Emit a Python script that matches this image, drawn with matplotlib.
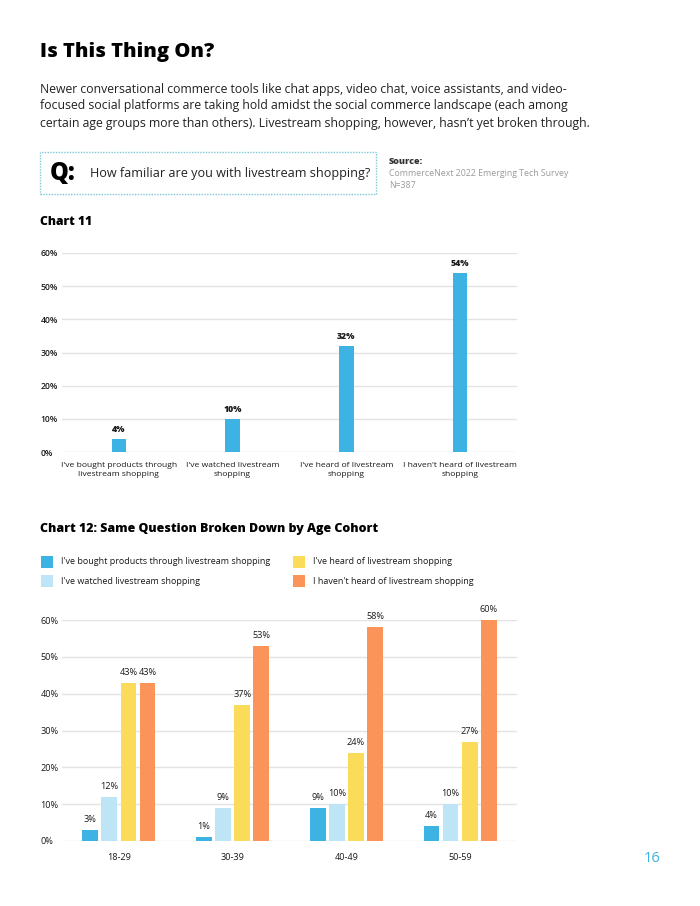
import matplotlib
matplotlib.use("Agg")
import matplotlib.pyplot as plt
import numpy as np
from matplotlib.patches import Rectangle

plt.rcParams['font.family'] = ['Open Sans', 'DejaVu Sans']

W, H = 700, 906

# ---------------- data ----------------
c11_categories = ["I've bought products through\nlivestream shopping",
                  "I've watched livestream\nshopping",
                  "I've heard of livestream\nshopping",
                  "I haven't heard of livestream\nshopping"]
c11_values = [4, 10, 32, 54]

c12_groups = ["18-29", "30-39", "40-49", "50-59"]
c12_series = ["I've bought products through livestream shopping",
              "I've watched livestream shopping",
              "I've heard of livestream shopping",
              "I haven't heard of livestream shopping"]
c12_bought = [3, 1, 9, 4]
c12_watched = [12, 9, 10, 10]
c12_heard = [43, 37, 24, 27]
c12_not_heard = [43, 53, 58, 60]

yticks = [0, 10, 20, 30, 40, 50, 60]
ytick_labels = ["0%", "10%", "20%", "30%", "40%", "50%", "60%"]

BLUE = "#3DB3E3"
LBLUE = "#BDE5F5"
YELLOW = "#FADC5A"
ORANGE = "#FA9459"
GRID = "#E3E3E3"
DARK = "#1A1A1A"

fig = plt.figure(figsize=(W / 100, H / 100), dpi=100)


def fy(y):
    return 1 - y / H


def fx(x):
    return x / W


# ---------------- header text ----------------
fig.text(fx(40), fy(52), "Is This Thing On?", fontsize=14.5, fontweight='heavy',
         color='black', va='center', ha='left')
body = ["Newer conversational commerce tools like chat apps, video chat, voice assistants, and video-",
        "focused social platforms are taking hold amidst the social commerce landscape (each among",
        "certain age groups more than others). Livestream shopping, however, hasn\u2019t yet broken through."]
for i, line in enumerate(body):
    fig.text(fx(40), fy(89 + i * 17), line, fontsize=8.85, color='#222222',
             va='center', ha='left')

# question box
box = Rectangle((fx(40), fy(194)), fx(376) - fx(40), fy(152) - fy(194),
                transform=fig.transFigure, fill=False, edgecolor='#7CC8D6',
                linestyle=(0, (1, 1)), linewidth=1.0)
fig.add_artist(box)
fig.text(fx(50), fy(173), "Q:", fontsize=17, fontweight='heavy', color='black',
         va='center', ha='left')
fig.text(fx(90), fy(174), "How familiar are you with livestream shopping?",
         fontsize=9.1, color='#222222', va='center', ha='left')
fig.text(fx(389), fy(161), "Source:", fontsize=6.5, fontweight='heavy',
         color='#333333', va='center', ha='left')
fig.text(fx(389), fy(173), "CommerceNext 2022 Emerging Tech Survey", fontsize=6.3,
         color='#9A9A9A', va='center', ha='left')
fig.text(fx(389), fy(185), "N=387", fontsize=6.3, color='#9A9A9A',
         va='center', ha='left')

fig.text(fx(40), fy(222), "Chart 11", fontsize=8.7, fontweight='heavy',
         color='black', va='center', ha='left')

# ---------------- Chart 11 ----------------
ax1 = fig.add_axes([fx(62), fy(452), fx(517) - fx(62), fy(253) - fy(452)])
x1 = np.arange(len(c11_categories))
bars = ax1.bar(x1, c11_values, width=0.128, color=BLUE, zorder=3)
for b, v in zip(bars, c11_values):
    ax1.text(b.get_x() + b.get_width() / 2, v + 1.5, f"{v}%", ha='center',
             va='bottom', fontsize=6.3, fontweight='heavy', color=DARK)
ax1.set_xlim(-0.5, len(c11_categories) - 0.5)
ax1.set_ylim(0, 60)
ax1.set_yticks(yticks)
ax1.set_yticklabels(ytick_labels, fontsize=6.2, color=DARK, fontweight='semibold')
ax1.set_xticks(x1)
ax1.set_xticklabels(c11_categories, fontsize=6.1, color=DARK, linespacing=1.55)
ax1.yaxis.grid(True, color=GRID, linewidth=1.0, zorder=0)
ax1.set_axisbelow(True)
for s in ax1.spines.values():
    s.set_visible(False)
ax1.tick_params(axis='both', length=0)
ax1.tick_params(axis='x', pad=7)
for lab in ax1.get_yticklabels():
    lab.set_horizontalalignment('left')
ax1.yaxis.set_tick_params(pad=15.5)

# ---------------- Chart 12 ----------------
fig.text(fx(40), fy(529), "Chart 12: Same Question Broken Down by Age Cohort",
         fontsize=8.9, fontweight='heavy', color='black', va='center', ha='left')

colors12 = [BLUE, LBLUE, YELLOW, ORANGE]
legend_pos = [(41, 562), (41, 581), (293, 562), (293, 581)]
for (lx, ly), col, name in zip(legend_pos, colors12, c12_series):
    sq = Rectangle((fx(lx), fy(ly + 6)), fx(12), 12 / H, transform=fig.transFigure,
                   facecolor=col, edgecolor='none')
    fig.add_artist(sq)
    fig.text(fx(lx + 20), fy(ly), name, fontsize=6.5, color=DARK,
             va='center', ha='left')

ax2 = fig.add_axes([fx(62), fy(841), fx(517) - fx(62), fy(620) - fy(841)])
x2 = np.arange(len(c12_groups))
step = 0.168
offsets = [-1.5, -0.5, 0.5, 1.5]
series_vals = [c12_bought, c12_watched, c12_heard, c12_not_heard]
for off, col, vals in zip(offsets, colors12, series_vals):
    bb = ax2.bar(x2 + off * step, vals, width=0.138, color=col, zorder=3)
    for b, v in zip(bb, vals):
        ax2.text(b.get_x() + b.get_width() / 2, v + 1.6, f"{v}%", ha='center',
                 va='bottom', fontsize=6.6, color=DARK)
ax2.set_xlim(-0.5, len(c12_groups) - 0.5)
ax2.set_ylim(0, 60)
ax2.set_yticks(yticks)
ax2.set_yticklabels(ytick_labels, fontsize=6.6, color=DARK)
for lab in ax2.get_yticklabels():
    lab.set_horizontalalignment('left')
ax2.yaxis.set_tick_params(pad=15.5)
ax2.set_xticks(x2)
ax2.set_xticklabels(c12_groups, fontsize=6.6, color=DARK)
ax2.yaxis.grid(True, color=GRID, linewidth=1.0, zorder=0)
ax2.set_axisbelow(True)
for s in ax2.spines.values():
    s.set_visible(False)
ax2.tick_params(axis='both', length=0)
ax2.tick_params(axis='x', pad=8.5)

fig.text(fx(652), fy(858), "16", fontsize=10.5, color=BLUE, va='center', ha='center')

fig.savefig("out.png", dpi=100)
